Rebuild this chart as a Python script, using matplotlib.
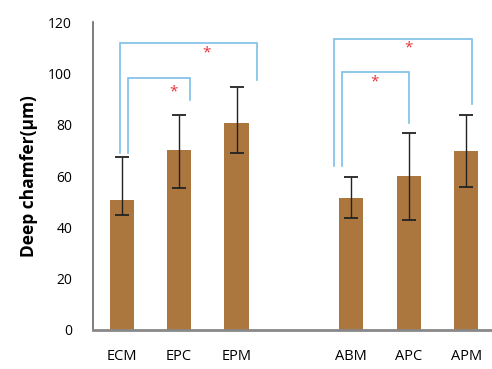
import matplotlib
matplotlib.use("Agg")
import matplotlib.pyplot as plt

plt.rcParams['font.family'] = ['Open Sans', 'DejaVu Sans']

categories = ["ECM", "EPC", "EPM", "ABM", "APC", "APM"]
positions = [0, 1, 2, 4, 5, 6]
means = [50.8, 70.0, 80.5, 51.3, 59.9, 69.9]
err_low = [44.8, 55.3, 68.8, 43.5, 42.9, 55.8]
err_high = [67.5, 83.8, 94.7, 59.6, 76.6, 83.8]
yticks = [0, 20, 40, 60, 80, 100, 120]

# significance brackets: (x_left, x_right, y_top, y_left_end, y_right_end)
brackets = [
    (-0.03, 2.35, 111.9, 68.8, 97.4),
    (0.105, 1.19, 98.3, 68.8, 89.6),
    (3.70, 6.10, 113.6, 63.9, 88.0),
    (3.83, 5.00, 100.4, 63.9, 80.5),
]
stars = [(1.47, 108.0), (0.91, 92.8), (5.0, 110.1), (4.41, 96.7)]

fig = plt.figure(figsize=(4.92, 3.69), dpi=100)
ax = fig.add_axes([0.189, 0.106, 0.811, 0.834])

lower = [m - l for m, l in zip(means, err_low)]
upper = [h - m for m, h in zip(means, err_high)]
ax.bar(positions, means, width=0.42, color="#AB773F", zorder=2)
ax.errorbar(positions, means, yerr=[lower, upper], fmt="none", ecolor="#222222",
            elinewidth=1.0, capsize=5, capthick=1.3, zorder=3)

for x1, x2, yt, yl, yr in brackets:
    ax.plot([x1, x1, x2, x2], [yl, yt, yt, yr], color="#7DBFE6", lw=1.2, zorder=4,
            solid_joinstyle="miter")
for sx, sy in stars:
    ax.text(sx, sy, "*", color="#E8333A", fontsize=11, ha="center", va="center", zorder=5)

ax.set_xlim(-0.5, 6.45)
ax.set_ylim(0, 120)
ax.set_xticks(positions)
ax.set_xticklabels(categories, fontsize=10.5)
ax.set_yticks(yticks)
ax.set_yticklabels([str(v) for v in yticks], fontsize=10)
ax.tick_params(axis="both", length=0)
ax.tick_params(axis="x", pad=14)
ax.tick_params(axis="y", pad=15)
for s in ["top", "right"]:
    ax.spines[s].set_visible(False)
ax.spines["left"].set_color("#666666")
ax.spines["left"].set_linewidth(1.2)
ax.spines["bottom"].set_color("#888888")
ax.spines["bottom"].set_linewidth(2.0)
ax.set_ylabel("Deep chamfer(μm)", fontsize=12.5, fontweight="bold", labelpad=7)

fig.savefig("out.png", dpi=100)
